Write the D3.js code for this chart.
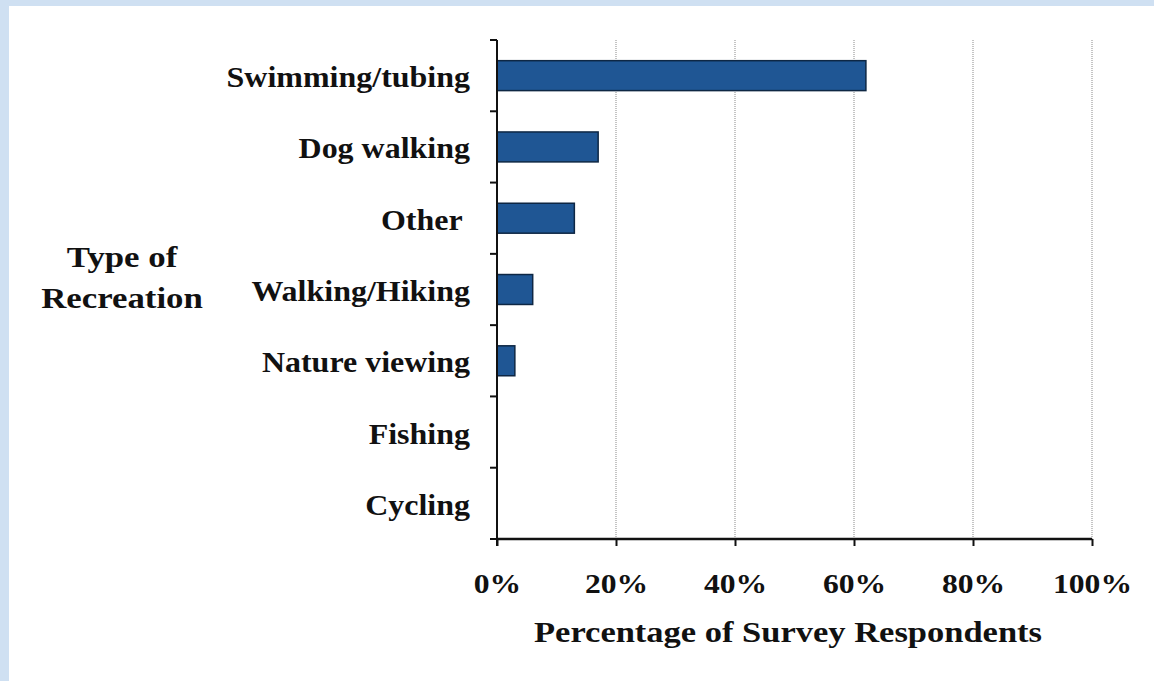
<!DOCTYPE html>
<html><head><meta charset="utf-8">
<script src="https://cdn.jsdelivr.net/npm/d3@7"></script>
<style>
html,body{margin:0;padding:0;background:#fff;}
svg{display:block;}
text{font-family:"Liberation Serif","Times New Roman",serif;font-weight:bold;fill:#111;}
</style></head>
<body>
<script>
const categories = ["Swimming/tubing","Dog walking","Other ","Walking/Hiking","Nature viewing","Fishing","Cycling"];
const values = [62, 17, 13, 6, 3, 0, 0];
const xTicks = [0, 20, 40, 60, 80, 100];
const xTitle = "Percentage of Survey Respondents";
const yTitle = ["Type of", "Recreation"];

const W = 1154, H = 681;
const svg = d3.select("body").append("svg").attr("width", W).attr("height", H);
svg.append("rect").attr("width", W).attr("height", H).attr("fill", "#cfe0f2");
svg.append("rect").attr("x", 9).attr("y", 6).attr("width", W - 9).attr("height", H - 6).attr("fill", "#fff");

const m = {left: 497, right: 1092, top: 40, bottom: 539};
const x = d3.scaleLinear().domain([0, 100]).range([m.left, m.right]);
const y = d3.scaleBand().domain(categories).range([m.top, m.bottom]).paddingInner(0.58).paddingOuter(0.29);

// gridlines
svg.append("g").selectAll("line").data(xTicks.filter(d => d > 0)).join("line")
  .attr("x1", d => x(d)).attr("x2", d => x(d))
  .attr("y1", m.top).attr("y2", m.bottom)
  .attr("stroke", "#c4c4c4").attr("stroke-width", 2).attr("stroke-dasharray", "1,1");

// bars
svg.append("g").selectAll("rect").data(categories).join("rect")
  .attr("x", x(0))
  .attr("y", d => y(d))
  .attr("width", (d, i) => x(values[i]) - x(0))
  .attr("height", y.bandwidth())
  .attr("fill", "#1f5694").attr("stroke", "#0e2744").attr("stroke-width", 1.5);

// y axis
const bandStep = (m.bottom - m.top) / categories.length;
const yTickPos = d3.range(categories.length + 1).map(i => m.top + i * bandStep);
const yAx = svg.append("g");
yAx.append("line").attr("x1", m.left).attr("x2", m.left).attr("y1", m.top).attr("y2", m.bottom + 7)
  .attr("stroke", "#111").attr("stroke-width", 2);
yAx.selectAll("line.t").data(yTickPos).join("line").attr("class", "t")
  .attr("x1", m.left - 7).attr("x2", m.left).attr("y1", d => d).attr("y2", d => d)
  .attr("stroke", "#111").attr("stroke-width", 2);
yAx.selectAll("text").data(categories).join("text")
  .attr("transform", d => `translate(${m.left - 27},${y(d) + y.bandwidth() / 2 + 11.5}) scale(1.066,1)`)
  .attr("text-anchor", "end")
  .attr("font-size", 30).style("white-space", "pre")
  .text(d => d);

// x axis
const xAxis = d3.axisBottom(x).tickValues(xTicks).tickFormat(d => d + "%").tickSize(7).tickPadding(0);
const gx = svg.append("g").attr("transform", `translate(0,${m.bottom})`).call(xAxis);
gx.select(".domain").attr("stroke", "#111").attr("stroke-width", 2.5).attr("d", `M${x(0)},0H${x(100)}`);
gx.selectAll(".tick line").attr("stroke", "#111").attr("stroke-width", 2);
gx.selectAll(".tick text").attr("font-size", 28).attr("font-family", null).attr("fill", "#111")
  .attr("y", 0).attr("dy", null)
  .attr("transform", "translate(0,54) scale(1.13,1)");

svg.append("text").attr("transform", "translate(788,642) scale(1.15,1)").attr("text-anchor", "middle")
  .attr("font-size", 30).text(xTitle);

svg.append("g").selectAll("text").data(yTitle).join("text")
  .attr("transform", (d, i) => `translate(122,${267 + i * 41}) scale(1.2,1)`)
  .attr("text-anchor", "middle").attr("font-size", 29).text(d => d);
</script>
</body></html>
